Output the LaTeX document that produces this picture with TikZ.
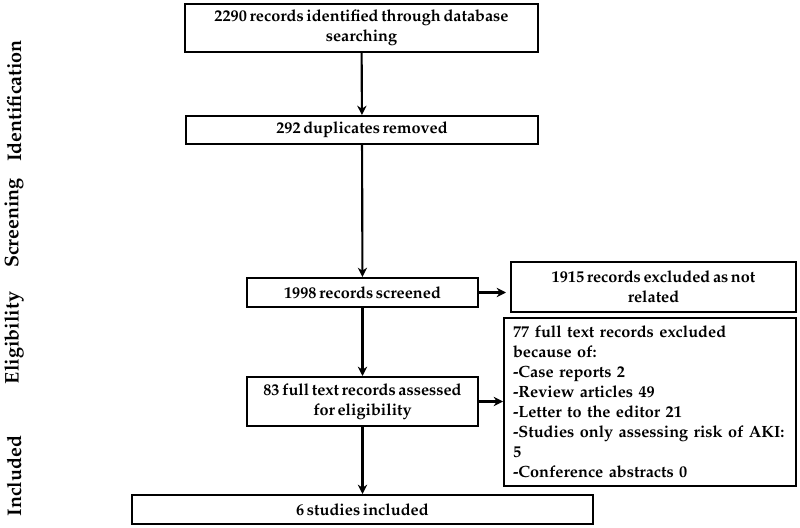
\documentclass[tikz,border=0pt]{standalone}
\usepackage[T1]{fontenc}
\usepackage{mathpazo}
\usetikzlibrary{arrows.meta}
\newcommand{\boxfont}{\bfseries\fontsize{12.2}{15}\selectfont\spaceskip=0.16em plus 0.05em\relax}
\begin{document}
\begin{tikzpicture}[x=0.75pt,y=-0.75pt,
  box/.style={draw,line width=1.5pt,inner sep=0pt,align=center,font=\boxfont},
  arr/.style={draw,line width=1.6pt,-{Stealth[length=7pt,width=7pt]}},
  phase/.style={rotate=90,font=\bfseries\fontsize{14.8}{16}\selectfont}]
\useasboundingbox (0,0) rectangle (800,528);
\node[box,minimum width=353*0.75pt,minimum height=48*0.75pt] (b1) at (361.5,28) {2290 records identified through database\\searching};
\node[box,minimum width=352*0.75pt,minimum height=28*0.75pt] (b2) at (362,130) {292 duplicates removed};
\node[box,minimum width=231*0.75pt,minimum height=29*0.75pt] (b3) at (362.5,292.5) {1998 records screened};
\node[box,minimum width=285*0.75pt,minimum height=50*0.75pt] (b4) at (653.5,287) {1915 records excluded as not\\related};
\node[box,minimum width=292*0.75pt,minimum height=168*0.75pt,align=left,text width=274*0.75pt] (b6) at (650,402) {77 full text records excluded\\because of:\\-Case reports 2\\-Review articles 49\\-Letter to the editor 21\\-Studies only assessing risk of AKI:\\5\\-Conference abstracts 0};
\node[box,minimum width=231*0.75pt,minimum height=49*0.75pt] (b5) at (362.5,401.5) {83 full text records assessed\\for eligibility};
\node[box,minimum width=461*0.75pt,minimum height=29*0.75pt] (b7) at (362.5,509.5) {6 studies included};
\draw[arr] (b1) -- (b2);
\draw[arr] (b2) -- (b3);
\draw[arr] (b3) -- (b5);
\draw[arr] (b5) -- (b7);
\draw[arr,shorten >=3pt] (b3.east) -- (b3.east -| b4.west);
\draw[arr] (b5.east) -- (b5.east -| b6.west);
\node[phase] (p1) at (14,101) {Identification};
\node[phase] (p2) at (14,223) {Screening};
\node[phase] (p3) at (14,338) {Eligibility};
\node[phase] (p4) at (14,476) {Included};
\end{tikzpicture}
\end{document}
